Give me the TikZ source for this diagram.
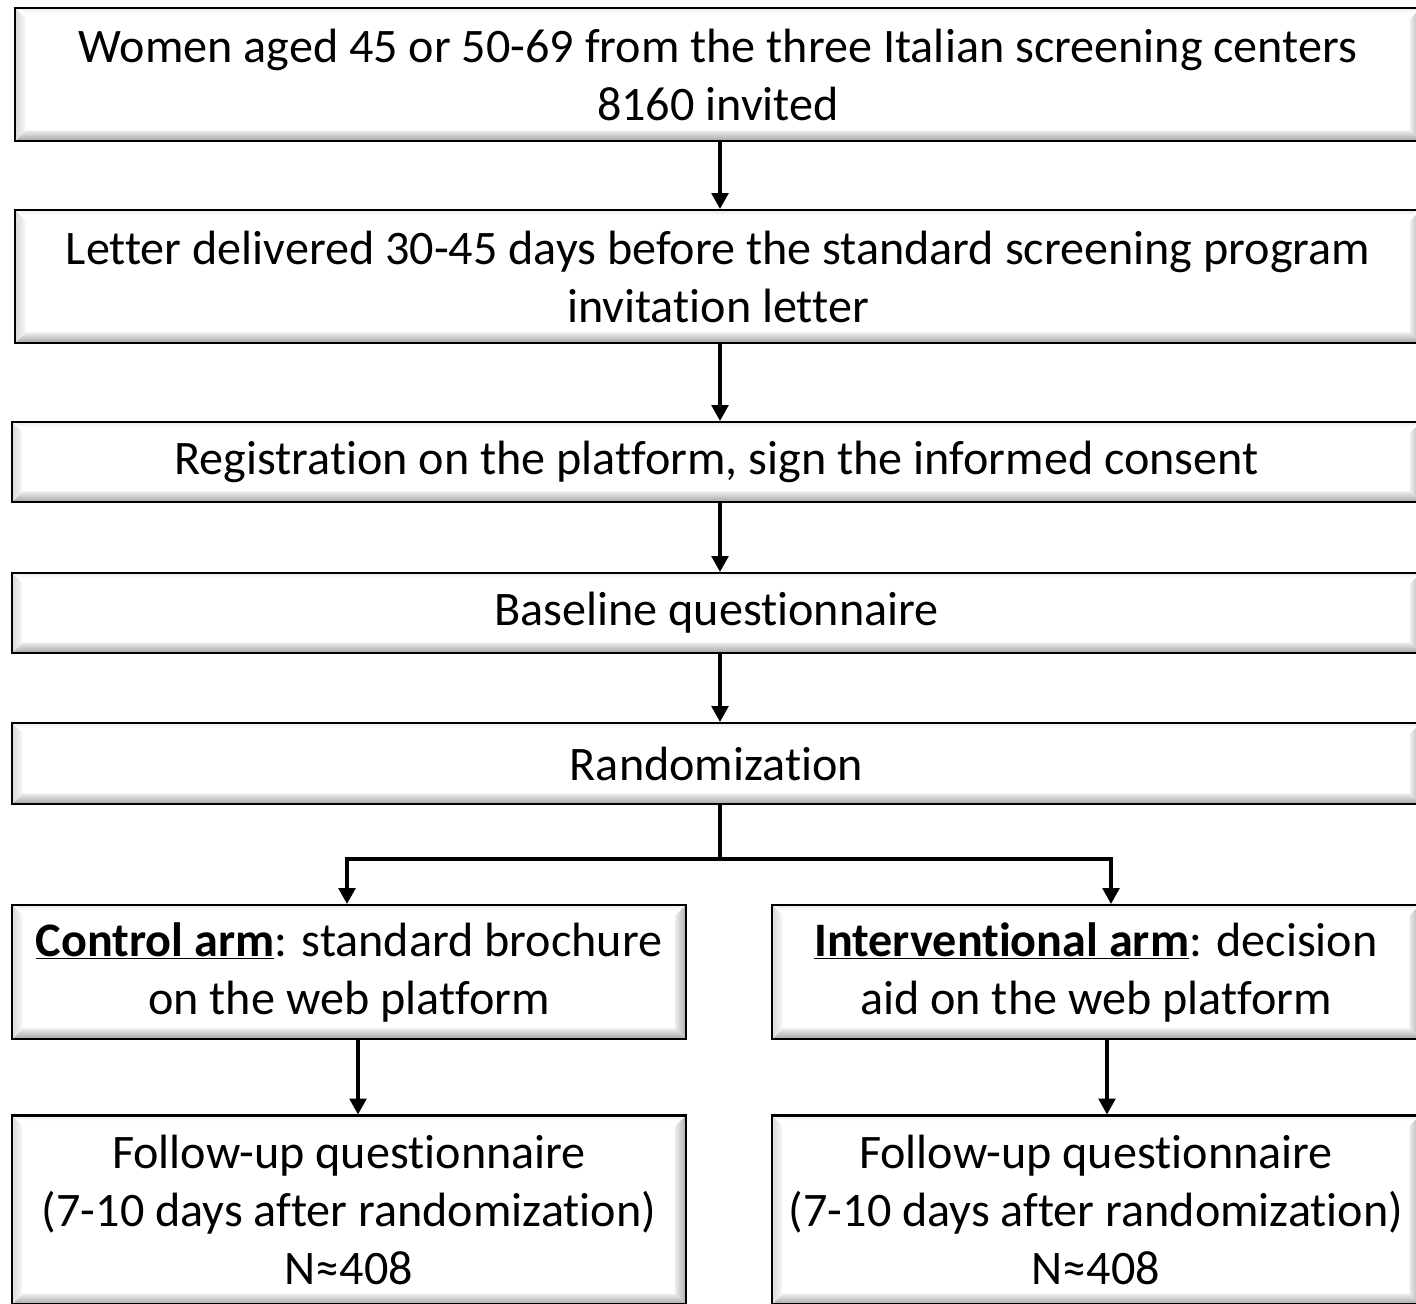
\documentclass[tikz,border=0pt]{standalone}
\usepackage{fontspec}
\setmainfont{Carlito}[Ligatures={NoCommon}]
\usepackage{tikz}
\usetikzlibrary{arrows.meta,positioning,calc}

\begin{document}
\begin{tikzpicture}[
  x=0.02cm,y=-0.02cm,
  every node/.style={font=\fontsize{27.4}{33}\selectfont},
  bx/.style={rectangle,draw,line width=1.2pt,fill=white,align=center,
             inner sep=0pt,
             path picture={
               \coordinate (bsw) at (path picture bounding box.south west);
               \coordinate (bse) at (path picture bounding box.south east);
               \coordinate (bnw) at (path picture bounding box.north west);
               \coordinate (bne) at (path picture bounding box.north east);
               % bevel: bottom, right, left, top
               \shade[top color=gray!15,bottom color=gray!70]
                 (bsw) -- (bse) -- ([xshift=-6pt,yshift=6pt]bse)
                 -- ([xshift=6pt,yshift=6pt]bsw) -- cycle;
               \shade[left color=gray!15,right color=gray!65]
                 (bse) -- (bne) -- ([xshift=-6pt,yshift=-6pt]bne)
                 -- ([xshift=-6pt,yshift=6pt]bse) -- cycle;
               \shade[left color=gray!30,right color=gray!5]
                 (bsw) -- (bnw) -- ([xshift=6pt,yshift=-6pt]bnw)
                 -- ([xshift=6pt,yshift=6pt]bsw) -- cycle;
               \shade[top color=gray!15,bottom color=white]
                 (bnw) -- (bne) -- ([xshift=-6pt,yshift=-3pt]bne)
                 -- ([xshift=6pt,yshift=-3pt]bnw) -- cycle;
             }},
  ln/.style={line width=1.8pt},
  arr/.style={ln,-{Triangle[length=9pt,width=9.5pt]}}]

  \useasboundingbox (0,0) rectangle (1416,1304);

  % --- main column (right border runs just past the page edge)
  \node[bx,minimum width=28.12cm,minimum height=2.66cm] (women) at (718,74.5)
    {Women aged 45 or 50-69 from the three Italian screening centers\\8160 invited};
  \node[bx,minimum width=28.12cm,minimum height=2.66cm] (letter) at (718,276.5)
    {Letter delivered 30-45 days before the standard screening program\\invitation letter};
  \node[bx,minimum width=28.18cm,minimum height=1.6cm] (regist) at (716.5,462)
    {Registration on the platform, sign the informed consent};
  \node[bx,minimum width=28.18cm,minimum height=1.6cm] (baseq) at (716.5,613)
    {Baseline questionnaire};
  \node[bx,minimum width=28.18cm,minimum height=1.62cm] (random) at (716.5,763.5)
    {Randomization};

  % --- the two arms
  \node[bx,minimum width=13.48cm,minimum height=2.68cm] (ctrl) at (349,972)
    {\underline{\textbf{Control arm}}: standard brochure\\on the web platform};
  \node[bx,minimum width=12.96cm,minimum height=2.68cm] (intv) at (1096,972)
    {\underline{\textbf{Interventional arm}}: decision\\aid on the web platform};
  \node[bx,minimum width=13.48cm,minimum height=3.78cm] (ctrlfu) at (349,1210)
    {Follow-up questionnaire\\(7-10 days after randomization)\\N≈408};
  \node[bx,minimum width=12.96cm,minimum height=3.78cm] (intvfu) at (1096,1210)
    {Follow-up questionnaire\\(7-10 days after randomization)\\N≈408};

  % --- connectors
  \coordinate (spine) at (720,0);
  \coordinate (split) at (720,859);
  \coordinate (la) at (347,0);
  \coordinate (ra) at (1111,0);
  \coordinate (lb) at (358,0);
  \coordinate (rb) at (1107,0);

  \draw[arr] (women.south -| spine) -- (letter.north -| spine);
  \draw[arr] (letter.south -| spine) -- (regist.north -| spine);
  \draw[arr] (regist.south -| spine) -- (baseq.north -| spine);
  \draw[arr] (baseq.south -| spine) -- (random.north -| spine);
  \draw[ln]  (random.south -| spine) -- (split);
  \draw[arr] (split) -| (ctrl.north -| la);
  \draw[arr] (split) -| (intv.north -| ra);
  \draw[arr] (ctrl.south -| lb) -- (ctrlfu.north -| lb);
  \draw[arr] (intv.south -| rb) -- (intvfu.north -| rb);
\end{tikzpicture}
\end{document}
